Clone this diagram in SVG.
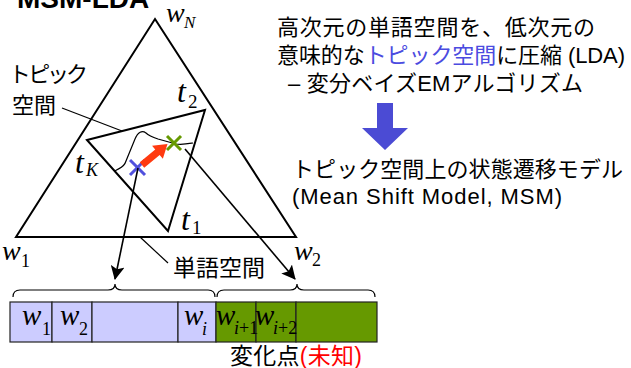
<svg xmlns="http://www.w3.org/2000/svg" width="631" height="368" viewBox="0 0 631 368">
<style>
.jp{font-family:"Liberation Sans","Noto Sans CJK JP",sans-serif;fill:#000}
.m{font-family:"Liberation Serif",serif;font-style:italic;fill:#000}
.r{font-family:"Liberation Serif",serif;fill:#000}
.edge{fill:none;stroke:#000;stroke-width:2;stroke-linejoin:miter}
.thin{fill:none;stroke:#000;stroke-width:1.2}
.cell{stroke:#222;stroke-width:1.2}
</style>
<defs>
<marker id="ah" viewBox="0 0 14 14" refX="13" refY="7" markerWidth="14" markerHeight="14" markerUnits="userSpaceOnUse" orient="auto">
<path d="M0,0 L14,7 L0,14 L3,7 z" fill="#000"/>
</marker>
</defs>
<rect width="631" height="368" fill="#fff"/>
<text x="17" y="8" style="font-family:'Liberation Sans',sans-serif;font-weight:bold;font-size:28px">MSM-LDA</text>

<g id="word-space">
<polygon class="edge" points="155,19 296,237 16,237"/>
<text class="m" x="166" y="22" font-size="28">w</text>
<text class="m" x="184" y="28" font-size="17">N</text>
<text class="m" x="2" y="260" font-size="28">w</text>
<text class="r" x="21" y="267" font-size="18">1</text>
<text class="m" x="294" y="260" font-size="28">w</text>
<text class="r" x="312" y="266" font-size="18">2</text>
</g>

<g id="topic-space">
<polygon class="edge" points="87,140 205,110 168,231"/>
<text class="m" x="75" y="173" font-size="32">t</text>
<text class="m" x="86" y="176" font-size="18">K</text>
<text class="m" x="177" y="102" font-size="32">t</text>
<text class="r" x="188" y="108" font-size="19">2</text>
<text class="m" x="181" y="230" font-size="32">t</text>
<text class="r" x="192" y="234" font-size="19">1</text>
<path class="thin" d="M115,171 C119,168 124,168 126,161 L135,139 C138,132 142,130 146,133 C149,136 152,137 158,139 L176,144 C182,145 187,144 193,143" stroke-width="1.4"/>
</g>

<g id="topic-label">
<text class="jp" x="12" y="82" font-size="22" style="font-feature-settings:'palt'">トピック</text>
<text class="jp" x="12" y="113" font-size="22">空間</text>
</g>
<g id="word-label">
<text class="jp" x="173" y="276" font-size="23">単語空間</text>
</g>

<g id="states">
<g stroke="#5050DD" stroke-width="3">
<line x1="130" y1="160" x2="145" y2="175"/><line x1="130" y1="175" x2="145" y2="160"/>
</g>
<g stroke="#669900" stroke-width="3">
<line x1="167" y1="136" x2="181" y2="150"/><line x1="167" y1="150" x2="181" y2="136"/>
</g>
<polygon fill="#FF3A10" transform="translate(142,165) rotate(-39.4)" points="0,-3.5 20,-3.5 20,-8.5 33,0 20,8.5 20,3.5 0,3.5"/>
</g>

<g id="sequence">
<rect class="cell" x="10" y="302" width="42" height="40" fill="#CCCCFF"/>
<rect class="cell" x="52" y="302" width="40" height="40" fill="#CCCCFF"/>
<rect class="cell" x="92" y="302" width="86" height="40" fill="#CCCCFF"/>
<rect class="cell" x="178" y="302" width="38" height="40" fill="#CCCCFF"/>
<rect class="cell" x="216" y="302" width="40" height="40" fill="#669900"/>
<rect class="cell" x="256" y="302" width="40" height="40" fill="#669900"/>
<rect class="cell" x="296" y="302" width="81" height="40" fill="#669900"/>
<text class="m" x="22" y="325" font-size="29">w</text>
<text class="r" x="42" y="335" font-size="18">1</text>
<text class="m" x="60" y="325" font-size="29">w</text>
<text class="r" x="79" y="335" font-size="18">2</text>
<text class="m" x="184" y="325" font-size="29">w</text>
<text class="m" x="202" y="335" font-size="18">i</text>
<text class="m" x="216" y="325" font-size="29">w</text>
<text x="234" y="334" font-size="18"><tspan class="m">i</tspan><tspan class="r">+1</tspan></text>
<text class="m" x="255" y="325" font-size="29">w</text>
<text x="273" y="334" font-size="18"><tspan class="m">i</tspan><tspan class="r">+2</tspan></text>
<path class="thin" d="M13,297 Q13,290 20,290 L108,290 Q115,290 115,284 Q115,290 122,290 L208,290 Q215,290 215,297"/>
<path class="thin" d="M217,297 Q217,290 224,290 L290,290 Q297,290 297,284 Q297,290 304,290 L368,290 Q375,290 375,297"/>
<text class="jp" x="230" y="364" font-size="23" textLength="132">変化点<tspan fill="#FF0000">(未知)</tspan></text>
</g>

<g id="connectors">
<line class="thin" x1="62" y1="108" x2="122" y2="131"/>
<line class="thin" x1="140" y1="237" x2="168" y2="263"/>
<line stroke="#000" stroke-width="1.6" x1="138" y1="168" x2="115" y2="279" marker-end="url(#ah)"/>
<line stroke="#000" stroke-width="1.6" x1="185" y1="149" x2="295" y2="279" marker-end="url(#ah)"/>
</g>

<g id="description">
<text class="jp" x="277" y="35" font-size="22" textLength="318">高次元の単語空間を、低次元の</text>
<text class="jp" x="277" y="63" font-size="22" textLength="348">意味的な<tspan fill="#4B4BE0">トピック空間</tspan>に圧縮 (LDA)</text>
<text class="jp" x="288" y="91" font-size="22" textLength="295">– 変分ベイズEMアルゴリズム</text>
<polygon fill="#4B4BD4" points="377,103 393,103 393,128 408,128 385,150 362,128 377,128"/>
<text class="jp" x="292" y="177" font-size="22" textLength="331">トピック空間上の状態遷移モデル</text>
<text class="jp" x="292" y="204" font-size="22" textLength="270">(Mean Shift Model, MSM)</text>
</g>
</svg>
